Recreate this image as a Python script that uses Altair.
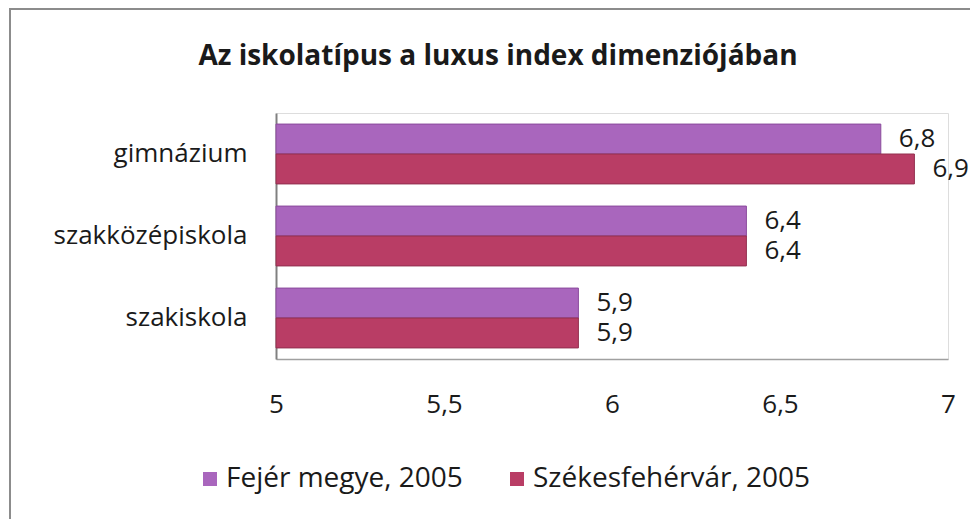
import altair as alt
import pandas as pd

categories = ["gimnázium", "szakközépiskola", "szakiskola"]
series = ["Fejér megye, 2005", "Székesfehérvár, 2005"]
fejer = [6.8, 6.4, 5.9]
szekesfehervar = [6.9, 6.4, 5.9]
x_ticks = [5, 5.5, 6, 6.5, 7]

fill_colors = ["#A966BD", "#B93D65"]
stroke_colors = ["#8A4A9C", "#93304F"]

rows = []
for c, a, b in zip(categories, fejer, szekesfehervar):
    rows.append({"kategoria": c, "sorozat": series[0], "ertek": a})
    rows.append({"kategoria": c, "sorozat": series[1], "ertek": b})
df = pd.DataFrame(rows)

FONT = "Open Sans"
TXT = "#1a1a1a"
FS = 26

base = alt.Chart(df).transform_calculate(
    cimke="replace(format(datum.ertek, '.1f'), '.', ',')"
)

y_enc = alt.Y(
    "kategoria:N",
    sort=categories,
    scale=alt.Scale(paddingInner=0.27, paddingOuter=0.135),
    axis=alt.Axis(
        title=None, ticks=False, labelPadding=29, labelFontSize=FS,
        labelFont=FONT, labelColor=TXT, domainColor="#808080", domainWidth=2,
        labelLimit=400,
    ),
)
yoff = alt.YOffset("sorozat:N", sort=series, scale=alt.Scale(paddingInner=0, paddingOuter=0))

x_enc = alt.X(
    "ertek:Q",
    scale=alt.Scale(domain=[5, 7], nice=False, zero=False),
    axis=alt.Axis(
        title=None, values=x_ticks, ticks=False, grid=False, labelPadding=32,
        labelFontSize=FS, labelFont=FONT, labelColor=TXT, labelFlush=False,
        domainColor="#A0A0A0", domainWidth=1.5,
        labelExpr="replace(format(datum.value, '.1~f'), '.', ',')",
    ),
)

bars = base.mark_bar(strokeWidth=1).encode(
    x=x_enc,
    x2=alt.datum(5),
    y=y_enc,
    yOffset=yoff,
    fill=alt.Fill(
        "sorozat:N", sort=series,
        scale=alt.Scale(domain=series, range=fill_colors),
        legend=alt.Legend(
            title=None, orient="none", direction="horizontal",
            legendX=-80, legendY=352, symbolType="square", symbolSize=196,
            symbolStrokeWidth=0, labelFontSize=28, labelFont=FONT, labelColor=TXT,
            labelOffset=2, columnPadding=40, labelLimit=500,
        ),
    ),
    stroke=alt.Stroke(
        "sorozat:N", sort=series,
        scale=alt.Scale(domain=series, range=stroke_colors), legend=None,
    ),
)

labels = base.mark_text(
    align="left", baseline="middle", dx=18, fontSize=FS, font=FONT, color=TXT
).encode(
    x=alt.X("ertek:Q"),
    y=alt.Y("kategoria:N", sort=categories),
    yOffset=alt.YOffset("sorozat:N", sort=series),
    text="cimke:N",
)

frame = alt.Chart(alt.Data(values=[{"a": 1}])).mark_rect(
    fill="transparent", stroke="#8C8C8C", strokeWidth=2
).encode(
    x=alt.value(-266), x2=alt.value(1200), y=alt.value(-104), y2=alt.value(900)
)

chart = alt.layer(frame, bars, labels).properties(
    width=672,
    height=246,
    autosize=alt.AutoSizeParams(type="none"),
    padding={"left": 268, "top": 105, "right": 22, "bottom": 160},
    title=alt.Title(
        "Az iskolatípus a luxus index dimenziójában",
        font=FONT, fontSize=28, fontWeight="bold", color=TXT,
        anchor="middle", frame="group", dx=-114, offset=0, dy=63,
    ),
).configure_view(fill="#E6E6E6", stroke="transparent").configure(background="white")

chart.save("out.html", embed_options={"renderer": "svg", "actions": False})
